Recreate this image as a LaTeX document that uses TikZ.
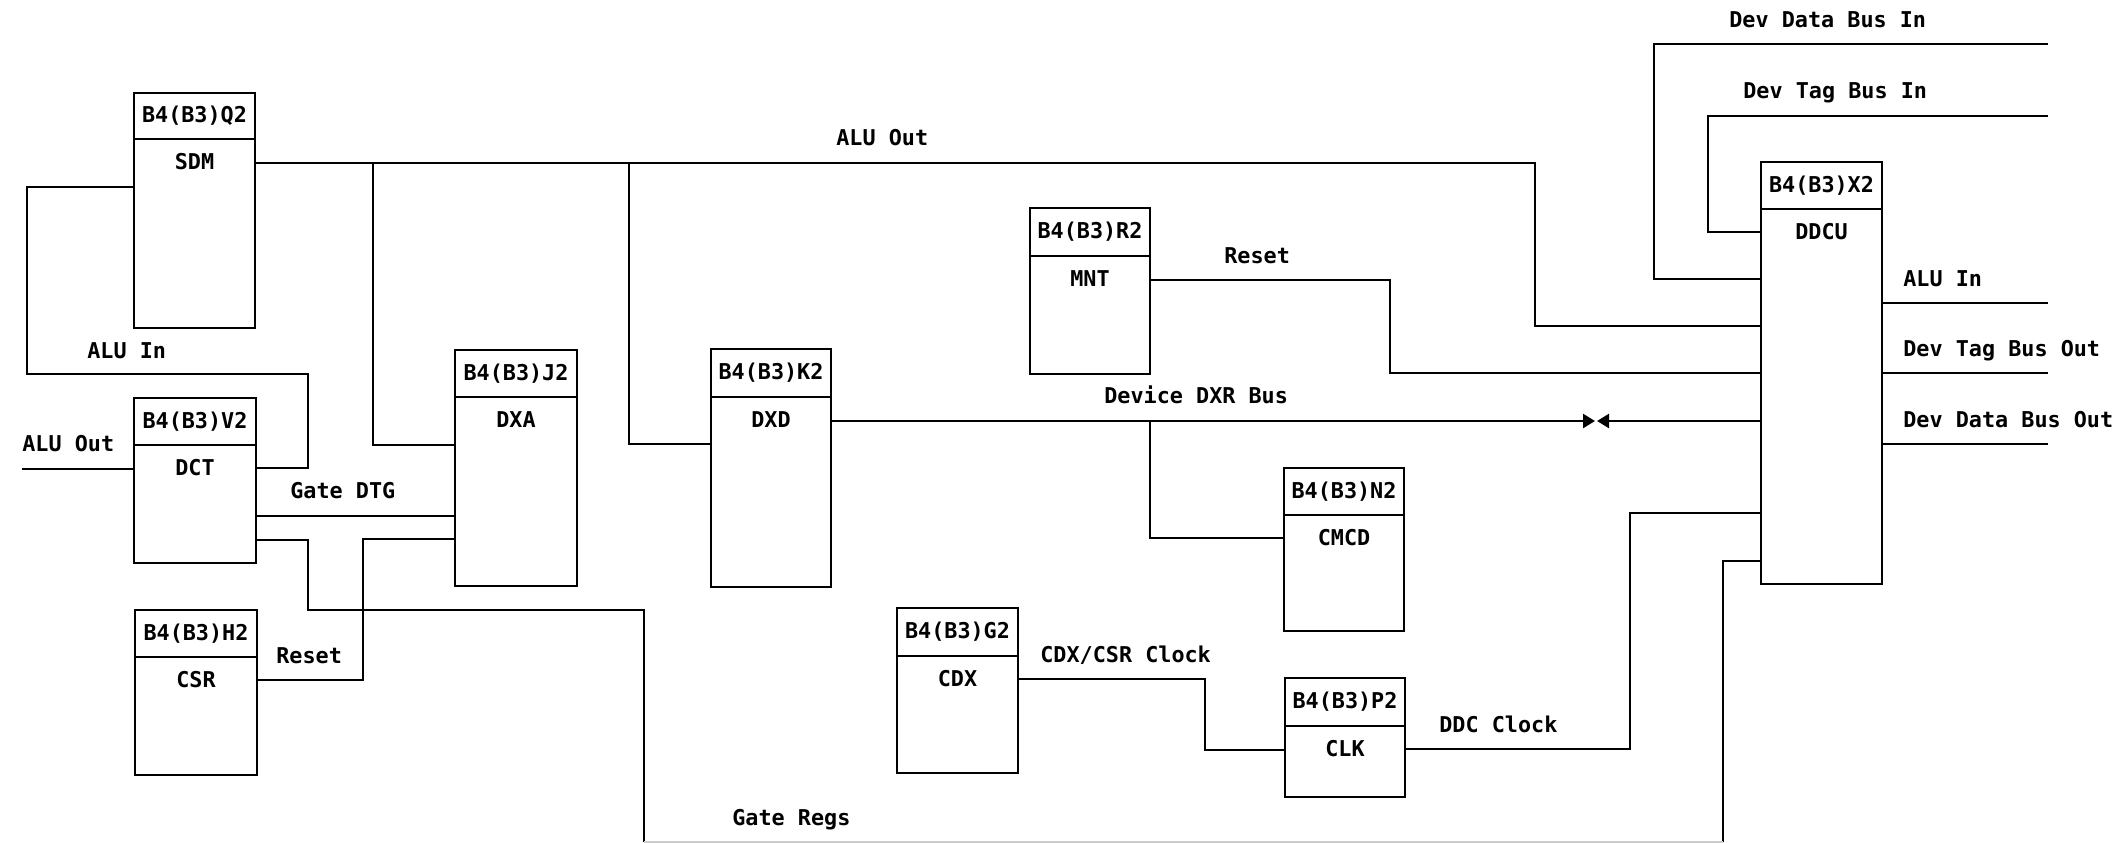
\documentclass[tikz,border=0pt]{standalone}
\usepackage{fontspec}
\newfontfamily\dmono{DejaVu Sans Mono Bold}
\usetikzlibrary{calc,arrows.meta}
\newcommand\ibmunit[8]{%
  \node[blk, minimum width=#4*0.02cm, minimum height=#5*0.02cm, anchor=north west] (#1) at (#2,#3) {};
  \draw[divl] ($(#1.north west)+(0,#6)$) -- ($(#1.north east)+(0,#6)$);
  \node[txt] (#1-h) at ($(#1.north)+(0,#6/2)$) {#7};
  \node[txt] (#1-l) at ($(#1.north)+(0,#6+23)$) {#8};
}
\begin{document}
\begin{tikzpicture}[x=0.02cm,y=-0.02cm,
  wire/.style={line width=1.4pt, line join=miter},
  blk/.style={draw, line width=1.5pt, rectangle, outer sep=0pt, inner sep=0pt},
  divl/.style={line width=1.5pt},
  txt/.style={font=\dmono\fontsize{12.4}{14}\selectfont, inner sep=0pt},
  lbl/.style={txt, anchor=base west},
  tip/.style={-{Triangle[length=0.24cm,width=0.28cm]}}
]
\useasboundingbox (0,0) rectangle (2116,842);
\fill[white] (0,0) rectangle (2116,842);

% units
\ibmunit{sdm}{134}{93}{121}{235}{46}{B4(B3)Q2}{SDM}
\ibmunit{dct}{134}{398}{122}{165}{47}{B4(B3)V2}{DCT}
\ibmunit{csr}{135}{610}{122}{165}{47}{B4(B3)H2}{CSR}
\ibmunit{dxa}{455}{350}{122}{236}{47}{B4(B3)J2}{DXA}
\ibmunit{dxd}{711}{349}{120}{238}{48}{B4(B3)K2}{DXD}
\ibmunit{mnt}{1030}{208}{120}{166}{48}{B4(B3)R2}{MNT}
\ibmunit{cmcd}{1284}{468}{120}{163}{47}{B4(B3)N2}{CMCD}
\ibmunit{cdx}{897}{608}{121}{165}{48}{B4(B3)G2}{CDX}
\ibmunit{clk}{1285}{678}{120}{119}{48}{B4(B3)P2}{CLK}
\ibmunit{ddcu}{1761}{162}{121}{422}{47}{B4(B3)X2}{DDCU}

% free ends and junctions
\coordinate (j1) at (373,163);
\coordinate (j2) at (629,163);
\coordinate (j3) at (1150,421);
\coordinate (aluoutL) at (22,469);
\coordinate (grB1) at (644,842);
\coordinate (grB2) at (1723,842);
\coordinate (dxrR) at (1595,421);
\coordinate (dxrL) at (1597,421);
\coordinate (ddbi) at (2048,44);
\coordinate (dtbi) at (2048,116);
\coordinate (aluinR) at (2048,303);
\coordinate (dtbo) at (2048,373);
\coordinate (ddbo) at (2048,444);

% ALU Out bus
\draw[wire] ($(sdm.north east)+(0,70)$) -| (1535,326) -- ($(ddcu.north west)+(0,164)$);
\draw[wire] (j1) |- ($(dxa.north west)+(0,95)$);
\draw[wire] (j2) |- ($(dxd.north west)+(0,95)$);

% ALU In loop
\draw[wire] ($(sdm.north west)+(0,94)$) -| (27,374) -| (308,468) -- ($(dct.north east)+(0,70)$);

% ALU Out into DCT
\draw[wire] (aluoutL) -- ($(dct.north west)+(0,71)$);

% Gate DTG
\draw[wire] ($(dct.north east)+(0,118)$) -- ($(dxa.north west)+(0,166)$);

% Gate Regs
\draw[wire] ($(dct.north east)+(0,142)$) -| (308,610) -| (grB1);
\draw[wire] ($(ddcu.north west)+(0,399)$) -| (grB2);
\draw[line width=0.8pt, black!20] (grB1) -- (grB2);

% Reset from CSR
\draw[wire] ($(csr.north east)+(0,70)$) -| (363,539) -- ($(dxa.north west)+(0,189)$);

% Device DXR Bus
\draw[wire, tip] ($(dxd.north east)+(0,72)$) -- (dxrR);
\draw[wire, tip] ($(ddcu.north west)+(0,259)$) -- (dxrL);
\draw[wire] (j3) |- ($(cmcd.north west)+(0,70)$);

% Reset from MNT
\draw[wire] ($(mnt.north east)+(0,72)$) -| (1390,373) -- ($(ddcu.north west)+(0,211)$);

% CDX/CSR Clock
\draw[wire] ($(cdx.north east)+(0,71)$) -| (1205,750) -- ($(clk.north west)+(0,72)$);

% DDC Clock
\draw[wire] ($(clk.north east)+(0,71)$) -| (1630,513) -- ($(ddcu.north west)+(0,351)$);

% Dev buses in
\draw[wire] (ddbi) -| (1654,279) -- ($(ddcu.north west)+(0,117)$);
\draw[wire] (dtbi) -| (1708,232) -- ($(ddcu.north west)+(0,70)$);

% outputs
\draw[wire] ($(ddcu.north east)+(0,141)$) -- (aluinR);
\draw[wire] ($(ddcu.north east)+(0,211)$) -- (dtbo);
\draw[wire] ($(ddcu.north east)+(0,282)$) -- (ddbo);

% labels
\node[lbl] (t1) at (836,145) {ALU Out};
\node[lbl] (t2) at (87,358) {ALU In};
\node[lbl] (t3) at (22,451) {ALU Out};
\node[lbl] (t4) at (290,498) {Gate DTG};
\node[lbl] (t5) at (276,663) {Reset};
\node[lbl] (t6) at (1224,263) {Reset};
\node[lbl] (t7) at (1104,403) {Device DXR Bus};
\node[lbl] (t8) at (1040,662) {CDX/CSR Clock};
\node[lbl] (t9) at (1439,732) {DDC Clock};
\node[lbl] (t10) at (732,825) {Gate Regs};
\node[lbl] (t11) at (1729,27) {Dev Data Bus In};
\node[lbl] (t12) at (1743,98) {Dev Tag Bus In};
\node[lbl] (t13) at (1903,286) {ALU In};
\node[lbl] (t14) at (1903,356) {Dev Tag Bus Out};
\node[lbl] (t15) at (1903,427) {Dev Data Bus Out};
\end{tikzpicture}
\end{document}
